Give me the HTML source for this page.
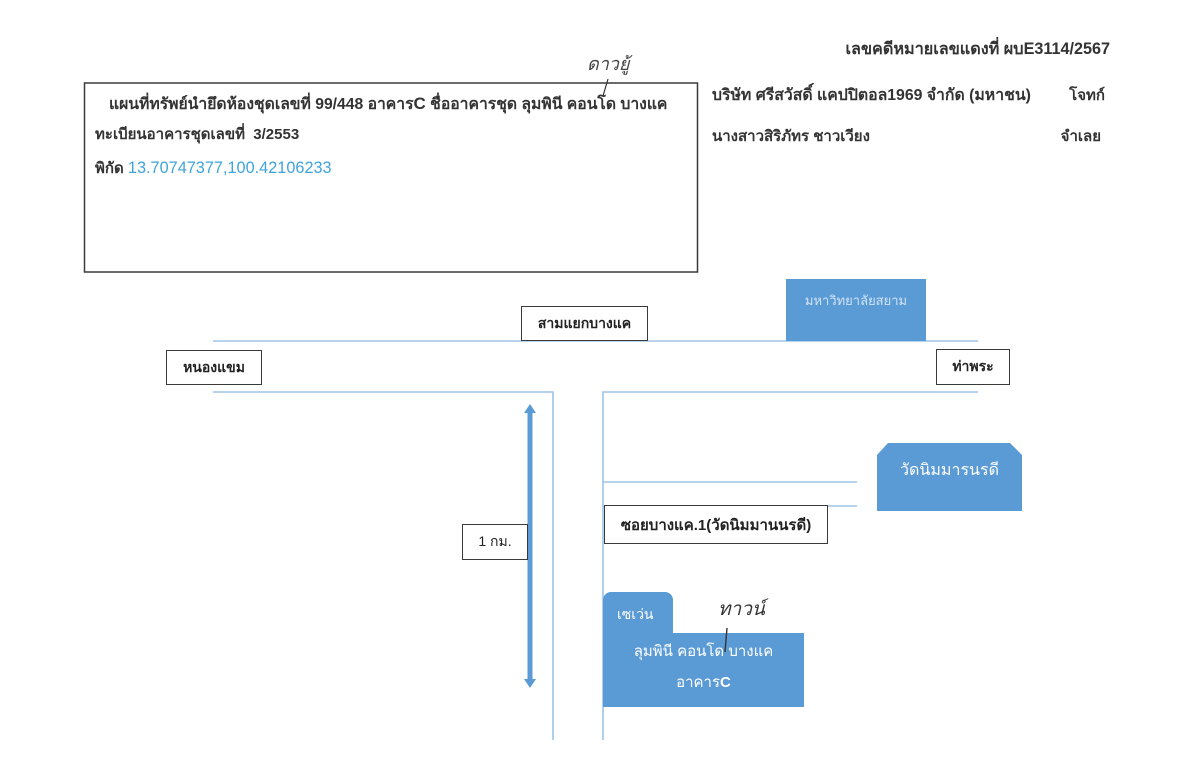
<!DOCTYPE html>
<html>
<head>
<meta charset="utf-8">
<style>
  html,body{margin:0;padding:0;background:#fff;}
  body{width:1200px;height:760px;position:relative;overflow:hidden;
       font-family:"Liberation Sans","DejaVu Sans",sans-serif;color:#222;}
  .t{position:absolute;white-space:nowrap;line-height:1;}
  .box{position:absolute;background:#fff;border:1.5px solid #3a3a3a;box-sizing:border-box;
       display:flex;align-items:center;justify-content:center;font-size:14px;font-weight:bold;color:#222;white-space:nowrap;}
</style>
</head>
<body>
<svg width="1200" height="760" style="position:absolute;left:0;top:0">
  <!-- roads -->
  <g stroke="#9dc3e6" stroke-width="1.6" fill="none">
    <line x1="213" y1="341" x2="978" y2="341"/>
    <polyline points="213,392 553,392 553,740"/>
    <polyline points="978,392 603,392 603,740"/>
    <line x1="603" y1="482" x2="857" y2="482"/>
    <line x1="603" y1="506" x2="857" y2="506"/>
  </g>
  <!-- top info box -->
  <rect x="84.5" y="83" width="613" height="189" fill="none" stroke="#3a3a3a" stroke-width="1.5"/>
  <!-- blue shapes -->
  <rect x="786" y="279" width="140" height="62" fill="#5b9bd5"/>
  <polygon points="888,443 1010,443 1022,455 1022,511 877,511 877,455" fill="#5b9bd5"/>
  <rect x="603" y="592" width="70" height="48" rx="8" ry="8" fill="#5b9bd5"/>
  <rect x="603" y="633" width="201" height="74" fill="#5b9bd5"/>
  <!-- scale arrow -->
  <rect x="527.5" y="412" width="5" height="268" fill="#5b9bd5"/>
  <polygon points="530,404 536,413 524,413" fill="#5b9bd5"/>
  <polygon points="530,688 536,679 524,679" fill="#5b9bd5"/>
  <!-- handwriting strokes -->
  <path d="M603 96 L608 79" stroke="#333" stroke-width="1.2" fill="none"/>
  <path d="M727 628 L725 652" stroke="#333" stroke-width="1.4" fill="none"/>
</svg>

<!-- header right -->
<div class="t" style="right:90px;top:41px;font-size:16.2px;font-weight:bold;color:#333;">เลขคดีหมายเลขแดงที่ ผบE3114/2567</div>
<div class="t" style="left:712px;top:88px;font-size:15.8px;font-weight:bold;color:#333;">บริษัท ศรีสวัสดิ์ แคปปิตอล1969 จำกัด (มหาชน)</div>
<div class="t" style="right:95px;top:88px;font-size:15px;font-weight:bold;color:#333;">โจทก์</div>
<div class="t" style="left:712px;top:129px;font-size:15px;font-weight:bold;color:#333;">นางสาวสิริภัทร ชาวเวียง</div>
<div class="t" style="right:99px;top:129px;font-size:15px;font-weight:bold;color:#333;">จำเลย</div>

<!-- handwriting -->
<div class="t" style="left:587px;top:55px;font-size:18px;font-style:italic;color:#444;">ดาวยู้</div>
<div class="t" style="left:718px;top:600px;font-size:19px;font-style:italic;color:#333;">ทาวน์</div>

<!-- top box text -->
<div class="t" style="left:109px;top:95px;font-size:15.7px;font-weight:bold;color:#333;">แผนที่ทรัพย์นำยึดห้องชุดเลขที่ 99/448 อาคาร<span style="font-size:17px">C</span> ชื่ออาคารชุด ลุมพินี คอนโด บางแค</div>
<div class="t" style="left:95px;top:127px;font-size:15px;font-weight:bold;color:#333;">ทะเบียนอาคารชุดเลขที่&nbsp; 3/2553</div>
<div class="t" style="left:95px;top:160px;font-size:15px;color:#333;"><b>พิกัด</b> <span style="color:#3fa3dc;font-weight:normal;font-size:16.3px;">13.70747377,100.42106233</span></div>

<!-- labels -->
<div class="box" style="left:521px;top:306px;width:127px;height:35px;">สามแยกบางแค</div>
<div class="box" style="left:166px;top:350px;width:96px;height:35px;">หนองแขม</div>
<div class="box" style="left:936px;top:349px;width:74px;height:36px;">ท่าพระ</div>
<div class="box" style="left:462px;top:524px;width:66px;height:36px;font-weight:normal;">1 กม.</div>
<div class="box" style="left:604px;top:505px;width:224px;height:39px;font-size:15px;">ซอยบางแค.1(วัดนิมมานนรดี)</div>

<!-- blue shape text -->
<div class="t" style="left:786px;top:294px;width:140px;text-align:center;font-size:13px;color:#cfe3f5;">มหาวิทยาลัยสยาม</div>
<div class="t" style="left:877px;top:463px;width:145px;text-align:center;font-size:16px;color:#fff;">วัดนิมมารนรดี</div>
<div class="t" style="left:617px;top:607px;font-size:14px;color:#fff;">เซเว่น</div>
<div class="t" style="left:603px;top:644px;width:201px;text-align:center;font-size:15px;color:#fff;">ลุมพินี คอนโด บางแค</div>
<div class="t" style="left:603px;top:675px;width:201px;text-align:center;font-size:15px;color:#fff;">อาคาร<b>C</b></div>
</body>
</html>
